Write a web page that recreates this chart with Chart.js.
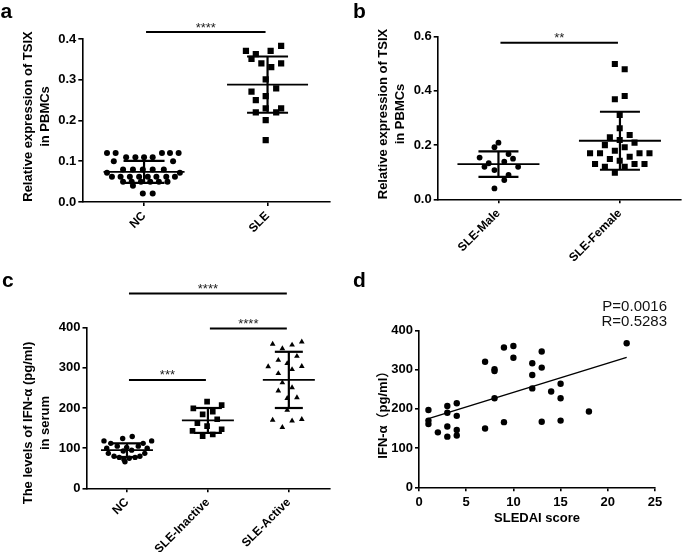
<!DOCTYPE html>
<html>
<head>
<meta charset="utf-8">
<script src="https://cdn.jsdelivr.net/npm/chart.js@4.4.1/dist/chart.umd.min.js"></script>
<style>
  body { margin: 0; background: #fff; width: 685px; height: 552px; position: relative; overflow: hidden; }
  canvas { position: absolute; }
</style>
</head>
<body>
<canvas id="ca" width="340" height="270" style="left:0;top:0"></canvas>
<canvas id="cb" width="345" height="270" style="left:340px;top:0"></canvas>
<canvas id="cc" width="340" height="282" style="left:0;top:270px"></canvas>
<canvas id="cd" width="345" height="282" style="left:340px;top:270px"></canvas>
<script>
// ---- a: TSIX, NC vs SLE ----
const catsA = ['NC', 'SLE'];
const ticksA = [0, 0.1, 0.2, 0.3, 0.4];
const ncTsixX = [0.20, 0.27, 0.645, 0.71, 0.78, 0.355, 0.43, 0.50, 0.57, 0.255, 0.735,
  0.33, 0.41, 0.49, 0.57, 0.66, 0.20, 0.79, 0.24, 0.31, 0.385, 0.46, 0.53, 0.60, 0.68, 0.75,
  0.33, 0.40, 0.475, 0.55, 0.62, 0.69, 0.41, 0.49, 0.57];
const ncTsixY = [0.12, 0.12, 0.12, 0.12, 0.12, 0.11, 0.11, 0.11, 0.11, 0.10, 0.10,
  0.08, 0.08, 0.08, 0.08, 0.08, 0.072, 0.072, 0.062, 0.062, 0.062, 0.062, 0.062, 0.062, 0.062, 0.062,
  0.05, 0.05, 0.05, 0.05, 0.05, 0.05, 0.04, 0.021, 0.021];
const sleTsixX = [1.325, 1.405, 1.525, 1.61, 1.37, 1.45, 1.53, 1.61, 1.485, 1.57, 1.37, 1.485,
  1.405, 1.485, 1.61, 1.405, 1.57, 1.485, 1.485];
const sleTsixY = [0.371, 0.363, 0.371, 0.383, 0.351, 0.340, 0.331, 0.340, 0.301, 0.279, 0.271, 0.260,
  0.250, 0.230, 0.230, 0.220, 0.220, 0.201, 0.152];
const meanA = [0.074, 0.288];
const sdA = [0.027, 0.069];
const sigA = [[0, 1, 0.417, '****']];

// ---- b: TSIX by sex ----
const catsB = ['SLE-Male', 'SLE-Female'];
const ticksB = [0, 0.2, 0.4, 0.6];
const maleX = [0.50, 0.467, 0.345, 0.583, 0.62, 0.42, 0.548, 0.385, 0.467, 0.662, 0.583, 0.548, 0.467];
const maleY = [0.209, 0.192, 0.154, 0.167, 0.150, 0.133, 0.139, 0.120, 0.108, 0.120, 0.090, 0.071, 0.040];
const femaleX = [1.458, 1.539, 1.458, 1.539, 1.498, 1.498, 1.417, 1.58, 1.498, 1.376, 1.62, 1.458, 1.539,
  1.254, 1.336, 1.661, 1.743, 1.417, 1.58, 1.498, 1.295, 1.376, 1.539, 1.62, 1.702, 1.458];
const femaleY = [0.499, 0.480, 0.369, 0.381, 0.311, 0.262, 0.229, 0.237, 0.219, 0.200, 0.209, 0.179, 0.192,
  0.170, 0.170, 0.170, 0.170, 0.149, 0.157, 0.142, 0.130, 0.120, 0.120, 0.130, 0.130, 0.098];
const meanB = [0.130, 0.216];
const sdB = [0.047, 0.107];
const sigB = [[0, 1, 0.578, '**']];

// ---- c: serum IFN-a ----
const catsC = ['NC', 'SLE-Inactive', 'SLE-Active'];
const ticksC = [0, 100, 200, 300, 400];
const ncIfnX = [0.216, 0.30, 0.447, 0.565, 0.70, 0.805, 0.38, 0.496, 0.64, 0.454, 0.558, 0.27,
  0.34, 0.405, 0.463, 0.528, 0.60, 0.66, 0.72, 0.475, 0.25, 0.75];
const ncIfnY = [118, 112, 124, 129, 112, 118, 105, 102, 105, 93, 95, 87,
  80, 77, 72, 75, 77, 80, 87, 66, 100, 100];
const inactX = [1.49, 1.32, 1.67, 1.435, 1.56, 1.37, 1.615, 1.49, 1.31, 1.67, 1.435, 1.56];
const inactY = [216, 199, 207, 184, 191, 162, 172, 155, 143, 147, 130, 134];
const activeX = [2.30, 2.42, 2.54, 2.66, 2.37, 2.48, 2.60, 2.245, 2.54, 2.66, 2.37, 2.42, 2.54,
  2.37, 2.48, 2.60, 2.48, 2.30, 2.54, 2.66, 2.42];
const activeY = [359, 348, 357, 365, 319, 311, 329, 303, 296, 304, 286, 263, 251,
  243, 224, 226, 195, 170, 168, 172, 152];
const meanC = [95, 169, 270];
const sdC = [17, 31, 70];
const sigC = [[0, 2, 485, '****'], [1, 2, 398, '****'], [0, 1, 270, '***']];

// ---- d: IFN-a vs SLEDAI ----
const sledai = [1, 1, 1, 2, 3, 3, 3, 3, 4, 4, 4, 4, 7, 7, 8, 8, 8, 9, 9, 10, 10,
  12, 12, 12, 13, 13, 13, 14, 15, 15, 15, 18, 22];
const ifnD = [197, 170, 161, 140, 207, 190, 155, 129, 214, 182, 146, 132, 320, 150, 301, 296, 227, 356, 166, 360, 330,
  316, 286, 252, 346, 305, 167, 244, 264, 227, 170, 193, 367];
const fitX = [1, 22];
const fitY = [175, 331];
const ticksDx = [0, 5, 10, 15, 20, 25];
const ticksDy = [0, 100, 200, 300, 400];

Chart.defaults.font.family = "'Liberation Sans', Arial, sans-serif";
Chart.defaults.font.size = 13;
Chart.defaults.font.weight = 'bold';
Chart.defaults.color = '#000';

const pts = (xs, ys) => xs.map((x, i) => ({x, y: ys[i]}));

const extras = {
  id: 'extras',
  afterDatasetsDraw(chart, args, o) {
    const {ctx, scales: {x, y}} = chart;
    const seg = (x1, y1, x2, y2) => { ctx.beginPath(); ctx.moveTo(x1, y1); ctx.lineTo(x2, y2); ctx.stroke(); };
    ctx.save();
    ctx.strokeStyle = '#000';
    if (o.means) {
      o.means.forEach((m, i) => {
        const cx = x.getPixelForValue(i + 0.5);
        const pm = y.getPixelForValue(m);
        const hi = y.getPixelForValue(m + o.sds[i]);
        const lo = y.getPixelForValue(m - o.sds[i]);
        ctx.lineWidth = 1.8;
        seg(cx - o.meanHalf, pm, cx + o.meanHalf, pm);
        ctx.lineWidth = 2.2;
        seg(cx - o.sdHalf, hi, cx + o.sdHalf, hi);
        seg(cx - o.sdHalf, lo, cx + o.sdHalf, lo);
        seg(cx, hi, cx, lo);
      });
    }
    if (o.sig) {
      o.sig.forEach(([a, b, v, txt]) => {
        const x1 = x.getPixelForValue(a + 0.5) + 2;
        const x2 = x.getPixelForValue(b + 0.5) - 2;
        const py = y.getPixelForValue(v);
        ctx.lineWidth = 2;
        seg(x1, py, x2, py);
        ctx.fillStyle = '#222';
        ctx.font = "13px 'Liberation Sans', Arial, sans-serif";
        ctx.textAlign = 'center';
        ctx.textBaseline = 'alphabetic';
        ctx.fillText(txt, (x1 + x2) / 2, py - 0.5);
      });
    }
    ctx.restore();
  },
  afterDraw(chart, args, o) {
    const {ctx} = chart;
    ctx.save();
    ctx.fillStyle = '#000';
    ctx.font = "bold 21px 'Liberation Sans', Arial, sans-serif";
    ctx.textAlign = 'left';
    ctx.textBaseline = 'alphabetic';
    ctx.fillText(o.letter[0], o.letter[1], o.letter[2]);
    const t = o.yTitle;
    ctx.font = "bold 13px 'Liberation Sans', Arial, 'Noto Sans CJK SC', sans-serif";
    ctx.textAlign = 'center';
    ctx.textBaseline = 'middle';
    t.lines.forEach((line, i) => {
      ctx.save();
      ctx.translate(t.x[i], t.y);
      ctx.rotate(-Math.PI / 2);
      ctx.fillText(line, 0, 0);
      ctx.restore();
    });
    if (o.notes) {
      ctx.font = "15px 'Liberation Sans', Arial, sans-serif";
      ctx.textAlign = 'right';
      ctx.textBaseline = 'alphabetic';
      ctx.fillStyle = '#111';
      o.notes.forEach(([txt, nx, ny]) => ctx.fillText(txt, nx, ny));
    }
    ctx.restore();
  }
};

const gridOpt = {drawOnChartArea: false, drawTicks: true, tickLength: 4, color: '#000', lineWidth: 1.6};
const borderOpt = {display: true, color: '#000', width: 1.6};

function yAxis(min, max, tickVals, width, fmt) {
  return {
    type: 'linear', min, max,
    afterBuildTicks: s => { s.ticks = tickVals.map(v => ({value: v})); },
    afterFit: s => { s.width = width; },
    ticks: {callback: v => fmt(v), padding: 2},
    grid: gridOpt, border: borderOpt
  };
}

function catAxis(cats, height) {
  return {
    type: 'linear', min: 0, max: cats.length,
    afterBuildTicks: s => { s.ticks = cats.map((c, i) => ({value: i + 0.5})); },
    afterFit: s => { s.height = height; },
    ticks: {callback: (v, i) => cats[i], minRotation: 45, maxRotation: 45, autoSkip: false, padding: 3, font: {size: 12}},
    grid: gridOpt, border: borderOpt
  };
}

function dotSet(xs, ys, style, r) {
  return {data: pts(xs, ys), pointStyle: style, pointRadius: r, pointHoverRadius: r,
    backgroundColor: '#000', borderColor: '#000', borderWidth: 0};
}

const base = {responsive: false, animation: false, devicePixelRatio: 1};

// a
new Chart(document.getElementById('ca'), {
  type: 'scatter',
  data: {datasets: [dotSet(ncTsixX, ncTsixY, 'circle', 3), dotSet(sleTsixX, sleTsixY, 'rect', 4.4)]},
  options: {...base,
    layout: {padding: {top: 39, right: 10.7, left: 0, bottom: 0}},
    scales: {x: catAxis(catsA, 68), y: yAxis(0, 0.4, ticksA, 82.3, v => v.toFixed(1))},
    plugins: {legend: {display: false}, tooltip: {enabled: false},
      extras: {letter: ['a', 0.5, 18.3], yTitle: {lines: ['Relative expression of TSIX', 'in PBMCs'], x: [28, 45], y: 116.5},
        means: meanA, sds: sdA, meanHalf: 40.5, sdHalf: 20.5, sig: sigA}}
  },
  plugins: [extras]
});

// b
new Chart(document.getElementById('cb'), {
  type: 'scatter',
  data: {datasets: [dotSet(maleX, maleY, 'circle', 2.9), dotSet(femaleX, femaleY, 'rect', 4.3)]},
  options: {...base,
    layout: {padding: {top: 36.7, right: 1.7, left: 0, bottom: 0}},
    scales: {x: catAxis(catsB, 70.7), y: yAxis(0, 0.6, ticksB, 97.7, v => v.toFixed(1))},
    plugins: {legend: {display: false}, tooltip: {enabled: false},
      extras: {letter: ['b', 13, 18.3], yTitle: {lines: ['Relative expression of TSIX', 'in PBMCs'], x: [43.3, 60], y: 114},
        means: meanB, sds: sdB, meanHalf: 41, sdHalf: 20, sig: sigB}}
  },
  plugins: [extras]
});

// c
new Chart(document.getElementById('cc'), {
  type: 'scatter',
  data: {datasets: [dotSet(ncIfnX, ncIfnY, 'circle', 2.7), dotSet(inactX, inactY, 'rect', 4.0),
    dotSet(activeX, activeY, 'triangle', 3.3)]},
  options: {...base,
    layout: {padding: {top: 57.7, right: 10.7, left: 0, bottom: 0}},
    scales: {x: catAxis(catsC, 63.7), y: yAxis(0, 400, ticksC, 86.5, v => String(v))},
    plugins: {legend: {display: false}, tooltip: {enabled: false},
      extras: {letter: ['c', 2, 16.7], yTitle: {lines: ['The levels of IFN-\u03b1 (pg/ml)', 'in serum'], x: [28, 45], y: 153},
        means: meanC, sds: sdC, meanHalf: 26, sdHalf: 14, sig: sigC}}
  },
  plugins: [extras]
});

// d
new Chart(document.getElementById('cd'), {
  type: 'scatter',
  data: {datasets: [dotSet(sledai, ifnD, 'circle', 3.2),
    {data: pts(fitX, fitY), showLine: true, pointRadius: 0, borderColor: '#000', borderWidth: 1.5, fill: false}]},
  options: {...base,
    layout: {padding: {top: 60.3, right: 30, left: 0, bottom: 0}},
    scales: {
      x: {type: 'linear', min: 0, max: 25,
        afterBuildTicks: s => { s.ticks = ticksDx.map(v => ({value: v})); },
        afterFit: s => { s.height = 64.7; },
        ticks: {maxRotation: 0, padding: 3},
        title: {display: true, text: 'SLEDAI score', padding: {top: 0, bottom: 26}},
        grid: gridOpt, border: borderOpt},
      y: yAxis(0, 400, ticksDy, 79, v => String(v))
    },
    plugins: {legend: {display: false}, tooltip: {enabled: false},
      extras: {letter: ['d', 13, 16.7], yTitle: {lines: ['IFN-\u03b1\uff08pg/ml\uff09'], x: [43], y: 141.7},
        notes: [['P=0.0016', 327, 41], ['R=0.5283', 327, 56]]}}
  },
  plugins: [extras]
});
</script>
</body>
</html>
